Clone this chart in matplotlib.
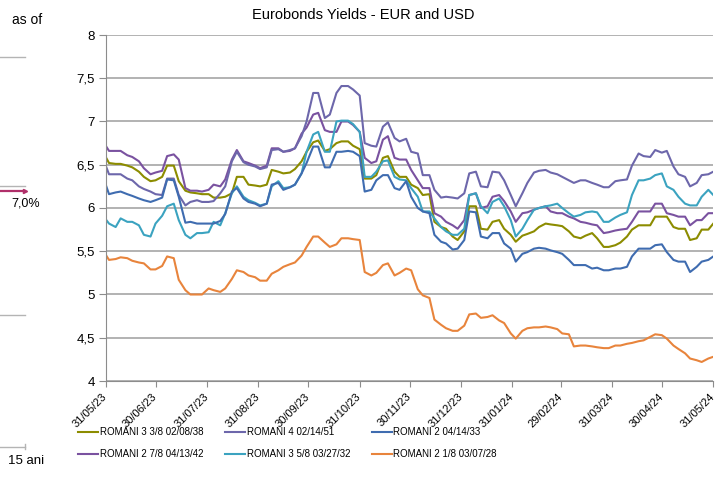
import pandas as pd
import matplotlib
matplotlib.use("Agg")
import matplotlib.pyplot as plt
from matplotlib.lines import Line2D
from matplotlib.ticker import FuncFormatter

plt.rcParams['font.family'] = ['Liberation Sans', 'DejaVu Sans']

# readings taken twice a week: Fridays (plus 31/05/23) and Tuesdays
fri_dates = pd.to_datetime(["2023-05-31"]).append(pd.date_range("2023-06-02", "2024-05-31", freq="7D"))
tue_dates = pd.date_range("2023-06-06", "2024-05-28", freq="7D")

r38_fri = [6.59, 6.52, 6.51, 6.47, 6.36, 6.32, 6.49, 6.31, 6.18, 6.16, 6.12, 6.13,
           6.36, 6.27, 6.25, 6.44, 6.40, 6.45, 6.65, 6.78, 6.68, 6.77, 6.72, 6.34,
           6.38, 6.60, 6.36, 6.27, 6.15, 5.84, 5.76, 5.63, 6.02, 5.76, 5.84, 5.76,
           5.61, 5.70, 5.78, 5.81, 5.79, 5.67, 5.68, 5.65, 5.55, 5.60, 5.75, 5.80,
           5.90, 5.90, 5.76, 5.63, 5.75, 5.82]
r38_tue = [6.51, 6.49, 6.42, 6.31, 6.36, 6.49, 6.20, 6.17, 6.16, 6.12,
           6.17, 6.36, 6.26, 6.27, 6.42, 6.41, 6.54, 6.76, 6.66, 6.75, 6.77,
           6.68, 6.34, 6.58, 6.42, 6.36, 6.23, 6.16, 5.78, 5.67, 5.73, 6.02,
           5.75, 5.86, 5.69, 5.68, 5.73, 5.82, 5.80, 5.73, 5.65, 5.71,
           5.55, 5.57, 5.67, 5.80, 5.80, 5.90, 5.78, 5.76, 5.65, 5.75]

r51_fri = [6.49, 6.39, 6.39, 6.32, 6.22, 6.16, 6.34, 6.15, 6.07, 6.07, 6.08, 6.25,
           6.65, 6.50, 6.45, 6.67, 6.65, 6.69, 7.00, 7.33, 7.08, 7.41, 7.37, 6.75,
           6.71, 6.99, 6.77, 6.65, 6.38, 6.21, 6.13, 6.11, 6.40, 6.25, 6.42, 6.32,
           6.02, 6.29, 6.43, 6.41, 6.36, 6.29, 6.32, 6.27, 6.24, 6.32, 6.49, 6.60,
           6.67, 6.66, 6.39, 6.25, 6.38, 6.42]
r51_tue = [6.39, 6.34, 6.25, 6.19, 6.15, 6.34, 6.03, 6.09, 6.07, 6.17,
           6.54, 6.53, 6.48, 6.47, 6.68, 6.67, 6.83, 7.33, 7.04, 7.33, 7.41,
           7.30, 6.72, 6.94, 6.81, 6.80, 6.63, 6.38, 6.12, 6.12, 6.17, 6.42,
           6.24, 6.41, 6.15, 6.17, 6.41, 6.44, 6.39, 6.32, 6.32, 6.29,
           6.24, 6.31, 6.33, 6.63, 6.59, 6.64, 6.48, 6.36, 6.29, 6.39]

r33_fri = [6.27, 6.16, 6.19, 6.14, 6.09, 6.09, 6.33, 6.13, 5.84, 5.82, 5.82, 5.93,
           6.23, 6.07, 6.02, 6.27, 6.21, 6.27, 6.52, 6.71, 6.47, 6.65, 6.65, 6.19,
           6.32, 6.38, 6.21, 6.13, 5.96, 5.69, 5.59, 5.53, 5.96, 5.67, 5.71, 5.59,
           5.38, 5.49, 5.54, 5.51, 5.47, 5.34, 5.34, 5.31, 5.28, 5.30, 5.44, 5.53,
           5.57, 5.49, 5.38, 5.26, 5.38, 5.44]
r33_tue = [6.18, 6.16, 6.11, 6.07, 6.12, 6.32, 5.83, 5.82, 5.82, 5.85,
           6.19, 6.11, 6.05, 6.05, 6.29, 6.24, 6.40, 6.71, 6.47, 6.65, 6.66,
           6.60, 6.21, 6.38, 6.23, 6.31, 6.00, 5.94, 5.61, 5.52, 5.63, 5.95,
           5.65, 5.71, 5.53, 5.47, 5.53, 5.53, 5.49, 5.40, 5.34, 5.30,
           5.28, 5.30, 5.32, 5.53, 5.53, 5.58, 5.40, 5.38, 5.32, 5.40]

r42_fri = [6.72, 6.66, 6.66, 6.59, 6.46, 6.41, 6.60, 6.56, 6.20, 6.19, 6.27, 6.33,
           6.67, 6.52, 6.46, 6.69, 6.65, 6.69, 6.93, 7.10, 6.88, 7.00, 6.96, 6.58,
           6.54, 6.83, 6.56, 6.44, 6.23, 5.94, 5.84, 5.76, 6.15, 6.00, 6.13, 6.08,
           5.84, 5.95, 6.00, 5.96, 5.94, 5.88, 5.83, 5.80, 5.72, 5.75, 5.84, 5.96,
           6.05, 5.94, 5.90, 5.80, 5.86, 5.94]
r42_tue = [6.66, 6.61, 6.54, 6.39, 6.43, 6.62, 6.23, 6.20, 6.21, 6.25,
           6.56, 6.54, 6.49, 6.49, 6.69, 6.66, 6.86, 7.08, 6.90, 6.88, 7.00,
           6.88, 6.52, 6.79, 6.58, 6.56, 6.32, 6.23, 5.90, 5.80, 5.86, 6.17,
           6.02, 6.15, 5.96, 5.94, 5.98, 6.02, 5.94, 5.90, 5.84, 5.81,
           5.71, 5.74, 5.76, 5.96, 5.96, 6.05, 5.92, 5.90, 5.86, 5.94]

r32_fri = [5.87, 5.82, 5.88, 5.84, 5.69, 5.82, 6.02, 5.86, 5.65, 5.71, 5.84, 5.94,
           6.25, 6.09, 6.03, 6.25, 6.23, 6.27, 6.65, 6.88, 6.65, 7.01, 6.97, 6.36,
           6.42, 6.55, 6.33, 6.23, 5.96, 5.88, 5.73, 5.69, 6.15, 6.02, 6.07, 6.02,
           5.67, 5.86, 6.00, 6.03, 6.00, 5.90, 5.95, 5.95, 5.84, 5.92, 6.15, 6.32,
           6.38, 6.25, 6.13, 6.03, 6.13, 6.15]
r32_tue = [5.78, 5.84, 5.80, 5.67, 5.91, 6.05, 5.69, 5.71, 5.72, 5.80,
           6.17, 6.13, 6.06, 6.05, 6.31, 6.24, 6.40, 6.85, 6.65, 7.00, 7.01,
           6.88, 6.36, 6.54, 6.36, 6.32, 6.13, 5.96, 5.78, 5.69, 5.76, 6.17,
           5.94, 6.11, 5.86, 5.76, 5.98, 6.02, 6.05, 5.94, 5.92, 5.96,
           5.84, 5.89, 5.95, 6.32, 6.34, 6.40, 6.21, 6.05, 6.03, 6.21]

r28_fri = [5.46, 5.40, 5.43, 5.39, 5.36, 5.29, 5.44, 5.17, 5.00, 5.00, 5.05, 5.07,
           5.28, 5.22, 5.16, 5.24, 5.32, 5.37, 5.55, 5.67, 5.55, 5.65, 5.64, 5.26,
           5.25, 5.36, 5.25, 5.28, 4.99, 4.71, 4.61, 4.58, 4.77, 4.73, 4.76, 4.67,
           4.49, 4.61, 4.62, 4.62, 4.55, 4.40, 4.41, 4.39, 4.38, 4.41, 4.44, 4.47,
           4.54, 4.49, 4.37, 4.26, 4.22, 4.28]
r28_tue = [5.41, 5.42, 5.37, 5.29, 5.33, 5.42, 5.05, 5.00, 5.07, 5.03,
           5.18, 5.26, 5.20, 5.16, 5.28, 5.35, 5.45, 5.67, 5.60, 5.58, 5.65,
           5.63, 5.22, 5.34, 5.22, 5.30, 5.06, 4.96, 4.65, 4.58, 4.64, 4.78,
           4.74, 4.70, 4.55, 4.58, 4.62, 4.63, 4.60, 4.54, 4.41, 4.40,
           4.38, 4.41, 4.43, 4.46, 4.51, 4.53, 4.41, 4.32, 4.24, 4.26]

series = [
    ("ROMANI 3 3/8 02/08/38", r38_fri, r38_tue, "#8c8c00"),
    ("ROMANI 2 7/8 04/13/42", r42_fri, r42_tue, "#7a52a0"),
    ("ROMANI 4 02/14/51", r51_fri, r51_tue, "#6d67ab"),
    ("ROMANI 3 5/8 03/27/32", r32_fri, r32_tue, "#3ba3c0"),
    ("ROMANI 2 04/14/33", r33_fri, r33_tue, "#3f6cb0"),
    ("ROMANI 2 1/8 03/07/28", r28_fri, r28_tue, "#e8843c"),
]

W, H = 715, 486
fig = plt.figure(figsize=(W / 100, H / 100), dpi=100)

def fx(px):
    return px / W

def fy(py):
    return 1 - py / H

ax = fig.add_axes([fx(105.7), fy(381), fx(713.3) - fx(105.7), fy(35) - fy(381)])

for name, fri, tue, col in series:
    s = pd.concat([pd.Series(fri, index=fri_dates), pd.Series(tue, index=tue_dates)]).sort_index()
    ax.plot(s.index, s.values, color=col, lw=1.5, label=name)

ax.set_xlim(pd.Timestamp("2023-05-31"), pd.Timestamp("2024-05-31"))
ax.set_ylim(4, 8)
ax.set_yticks([4, 4.5, 5, 5.5, 6, 6.5, 7, 7.5, 8])
ax.yaxis.set_major_formatter(FuncFormatter(lambda v, p: f"{v:g}".replace(".", ",")))
month_ends = pd.date_range("2023-05-31", "2024-05-31", freq="ME")
ax.set_xticks(month_ends)
ax.set_xticklabels([d.strftime("%d/%m/%y") for d in month_ends], rotation=45,
                   ha="right", va="center", rotation_mode="anchor", fontsize=8)
ax.tick_params(axis="y", labelsize=9.5, length=5, color="#8c8c8c", pad=3)
ax.tick_params(axis="x", length=4, color="#8c8c8c", pad=6)

ax.yaxis.grid(True, color="#a6a6a6", lw=1.2)
ax.set_axisbelow(True)
for s in ["top", "right"]:
    ax.spines[s].set_visible(False)
for s in ["left", "bottom"]:
    ax.spines[s].set_color("#8c8c8c")

fig.text(fx(363), fy(15), "Eurobonds Yields - EUR and USD", ha="center", va="center", fontsize=10.5)

leg = fig.legend(loc="upper left", bbox_to_anchor=(fx(78), fy(427)), ncol=3, frameon=False,
                 fontsize=7, handlelength=2.1, handletextpad=0.15, columnspacing=2.2,
                 labelspacing=1.25, borderpad=0, borderaxespad=0)

# pieces of the neighbouring chart on the left
fig.text(fx(12), fy(20), "as of", ha="left", va="center", fontsize=10)
for py in [57, 186, 315, 447]:
    fig.add_artist(Line2D([0, fx(25)], [fy(py), fy(py)], transform=fig.transFigure,
                          color="#b4b4b4", lw=1))
fig.add_artist(Line2D([fx(25), fx(25)], [fy(444), fy(449)], transform=fig.transFigure,
                      color="#b4b4b4", lw=1))
fig.add_artist(Line2D([0, fx(25)], [fy(191), fy(191)], transform=fig.transFigure,
                      color="#b0306a", lw=1.6, marker=">", markevery=[1], markersize=3))
fig.text(fx(26), fy(204), "7,0%", ha="center", va="center", fontsize=9)
fig.text(fx(26), fy(461), "15 ani", ha="center", va="center", fontsize=9.5)

fig.savefig("out.png", dpi=100)
